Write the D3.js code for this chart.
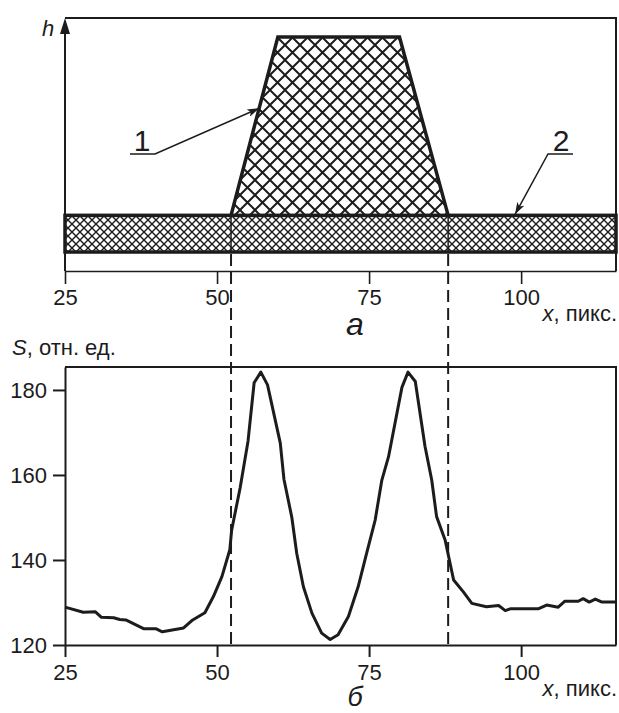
<!DOCTYPE html>
<html lang="ru">
<head>
<meta charset="UTF-8" />
<title>Профиль и сигнал</title>
<script src="https://d3js.org/d3.v7.min.js"></script>
<style>
  body { margin: 0; background: #fff; }
  svg { display: block; font-family: "Liberation Sans", Arial, sans-serif; }
</style>
</head>
<body>
<div id="chart"></div>
<script>
// ---- data ----
const xTicks = [25, 50, 75, 100]
const sTicks = [120, 140, 160, 180]
// film (1) outline: x, h
const filmX = [52.3, 60, 80, 88]
const filmH = [22, 92.5, 92.5, 22]
// substrate (2): bottom / top height
const substrateH = [7.5, 22]
// edges of the film (dashed)
const edgeX = [52.3, 88]
// signal S(x)
const sigX = [25, 28, 30, 31, 33, 34, 35, 38, 40, 41, 44.5, 46, 48, 49.4, 50.8, 52.1, 52.4, 53.8, 55.1, 56.1, 57.2, 58.3, 60.4, 61.0,
  62.3, 63.1, 64.2, 65.6, 67.2, 68.6, 69.9, 71.6, 73.2, 74.6, 76.0, 77.1, 78.2, 80.4, 81.4, 82.6, 84.2, 85.3, 86.1, 87.5,
  88.9, 90.5, 91.9, 94.3, 96.3, 97.4, 98.2, 102.8, 104.2, 106.1, 107.2, 109.4, 110.2, 111.2, 112.2, 113.3, 115.6]
const sigS = [128.9, 127.7, 127.8, 126.5, 126.4, 126.0, 125.9, 123.8, 123.8, 123.1, 124.0, 125.9, 127.6, 131.4, 136.1, 142.4, 147.0, 157, 168, 181.7, 184.2, 181.2, 167.5, 159,
  150, 141.6, 133.7, 127.5, 122.8, 121.3, 122.4, 126.7, 133.7, 141.6, 149.4, 158.8, 164.3, 180.6, 184.2, 182, 166.7, 158.8, 150.2, 144.7,
  135.3, 132.5, 129.8, 129.0, 129.3, 128.1, 128.5, 128.5, 129.4, 128.9, 130.3, 130.3, 130.9, 130.1, 130.8, 130.1, 130.1]

const width = 619, height = 713
const ink = "#1c1c1c"
const fs = 22

const svg = d3.select("#chart").append("svg")
  .attr("width", width).attr("height", height)
  .attr("viewBox", [0, 0, width, height])

const defs = svg.append("defs")

function hatch(id, w, sw) {
  defs.append("pattern")
    .attr("id", id)
    .attr("patternUnits", "userSpaceOnUse")
    .attr("width", w).attr("height", w)
    .append("path")
    .attr("d", `M0,0L${w},${w}M${w},0L0,${w}`)
    .attr("stroke", ink).attr("stroke-width", sw)
}
hatch("hatchFilm", 15, 2)
hatch("hatchSub", 8, 1.4)

defs.append("marker")
  .attr("id", "arrow")
  .attr("viewBox", "0 0 12 8")
  .attr("refX", 12).attr("refY", 4)
  .attr("markerWidth", 12).attr("markerHeight", 8)
  .attr("markerUnits", "userSpaceOnUse")
  .attr("orient", "auto")
  .append("path").attr("d", "M0,0L12,4L0,8L3,4Z").attr("fill", ink)

const x = d3.scaleLinear().domain([25, 115.6]).range([65, 616])

// ---------- top panel (a) ----------
const h = d3.scaleLinear().domain([0, 100]).range([271, 18])
const topG = svg.append("g")

// frame (top and right)
topG.append("path")
  .attr("d", `M${x(25)},${h(100)}H${x.range()[1]}V${h(0)}`)
  .attr("fill", "none").attr("stroke", ink).attr("stroke-width", 2)

// x axis
topG.append("g")
  .attr("transform", `translate(0,${h(0)})`)
  .call(d3.axisBottom(x).tickValues(xTicks).tickSize(13).tickSizeOuter(0))
  .call(g => g.select(".domain").attr("stroke", ink).attr("stroke-width", 1.6))
  .call(g => g.selectAll(".tick line").attr("stroke", ink).attr("stroke-width", 1.6))
  .call(g => g.selectAll(".tick text").attr("fill", ink).attr("font-size", fs).attr("dy", "0.82em")
    .attr("font-family", "Liberation Sans, Arial, sans-serif"))

// h axis with arrow
topG.append("line")
  .attr("x1", x(25)).attr("x2", x(25))
  .attr("y1", h(0)).attr("y2", h(100) + 14)
  .attr("stroke", ink).attr("stroke-width", 2)
topG.append("path")
  .attr("d", `M${x(25)},${h(100)}L${x(25) - 5},${h(100) + 16}L${x(25) + 5},${h(100) + 16}Z`)
  .attr("fill", ink)
topG.append("text").attr("x", 42).attr("y", 36)
  .attr("font-size", 22).attr("font-style", "italic").attr("fill", ink).text("h")

// substrate (2)
topG.append("rect")
  .attr("x", x(25)).attr("width", x.range()[1] - x(25))
  .attr("y", h(substrateH[1])).attr("height", h(substrateH[0]) - h(substrateH[1]))
  .attr("fill", "url(#hatchSub)")
  .attr("stroke", ink).attr("stroke-width", 3.5)

// film (1)
const film = filmX.map((v, i) => [x(v), h(filmH[i])])
topG.append("path")
  .attr("d", d3.line()(film))
  .attr("fill", "url(#hatchFilm)")
  .attr("stroke", ink).attr("stroke-width", 3.5).attr("stroke-linejoin", "miter")

// edges through substrate
edgeX.forEach(v => {
  topG.append("line")
    .attr("x1", x(v)).attr("x2", x(v))
    .attr("y1", h(substrateH[1])).attr("y2", h(substrateH[0]))
    .attr("stroke", ink).attr("stroke-width", 1.5)
})

// labels 1, 2
const t1 = 0.6
const tip1 = [x(filmX[0] + (filmX[1] - filmX[0]) * t1), h(filmH[0] + (filmH[1] - filmH[0]) * t1)]
topG.append("path")
  .attr("d", `M130,154H155L${tip1[0]},${tip1[1]}`)
  .attr("fill", "none").attr("stroke", ink).attr("stroke-width", 1.5)
  .attr("marker-end", "url(#arrow)")
topG.append("text").attr("x", 142).attr("y", 151).attr("text-anchor", "middle")
  .attr("font-size", 30).attr("fill", ink).text("1")

const tip2 = [x(99), h(substrateH[1]) - 1]
topG.append("path")
  .attr("d", `M573,154H548L${tip2[0]},${tip2[1]}`)
  .attr("fill", "none").attr("stroke", ink).attr("stroke-width", 1.5)
  .attr("marker-end", "url(#arrow)")
topG.append("text").attr("x", 561).attr("y", 151).attr("text-anchor", "middle")
  .attr("font-size", 30).attr("fill", ink).text("2")

topG.append("text").attr("x", 617).attr("y", 321).attr("text-anchor", "end")
  .attr("font-size", fs).attr("fill", ink)
  .call(t => t.append("tspan").attr("font-style", "italic").text("x"))
  .call(t => t.append("tspan").text(", пикс."))
topG.append("text").attr("x", 355).attr("y", 335).attr("text-anchor", "middle")
  .attr("font-size", 32).attr("font-style", "italic").attr("fill", ink).text("а")

// ---------- bottom panel (б) ----------
const y = d3.scaleLinear().domain([120, 185.4]).range([645, 367])
const botG = svg.append("g")

botG.append("path")
  .attr("d", `M${x(25)},${y(185.4)}H${x.range()[1]}V${y(120)}`)
  .attr("fill", "none").attr("stroke", ink).attr("stroke-width", 2)

botG.append("g")
  .attr("transform", `translate(0,${y(120)})`)
  .call(d3.axisBottom(x).tickValues(xTicks).tickSize(12).tickSizeOuter(0))
  .call(g => g.select(".domain").attr("stroke", ink).attr("stroke-width", 2))
  .call(g => g.selectAll(".tick line").attr("stroke", ink).attr("stroke-width", 2))
  .call(g => g.selectAll(".tick text").attr("fill", ink).attr("font-size", fs).attr("dy", "0.92em")
    .attr("font-family", "Liberation Sans, Arial, sans-serif"))

botG.append("g")
  .attr("transform", `translate(${x(25)},0)`)
  .call(d3.axisLeft(y).tickValues(sTicks).tickSize(12).tickPadding(6).tickSizeOuter(0))
  .call(g => g.select(".domain").attr("stroke", ink).attr("stroke-width", 2))
  .call(g => g.selectAll(".tick line").attr("stroke", ink).attr("stroke-width", 2))
  .call(g => g.selectAll(".tick text").attr("fill", ink).attr("font-size", fs)
    .attr("font-family", "Liberation Sans, Arial, sans-serif"))

botG.append("text").attr("x", 12).attr("y", 355)
  .attr("font-size", fs).attr("fill", ink)
  .call(t => t.append("tspan").attr("font-style", "italic").text("S"))
  .call(t => t.append("tspan").text(", отн. ед."))

// dashed edge lines
edgeX.forEach(v => {
  svg.append("line")
    .attr("x1", x(v)).attr("x2", x(v))
    .attr("y1", h(substrateH[0]) + 2).attr("y2", y(120))
    .attr("stroke", ink).attr("stroke-width", 2)
    .attr("stroke-dasharray", "12,6")
})

const line = d3.line()
  .x((d, i) => x(sigX[i]))
  .y(d => y(d))
botG.append("path")
  .datum(sigS)
  .attr("d", line)
  .attr("fill", "none").attr("stroke", ink).attr("stroke-width", 3)
  .attr("stroke-linejoin", "round")

botG.append("text").attr("x", 617).attr("y", 696).attr("text-anchor", "end")
  .attr("font-size", fs).attr("fill", ink)
  .call(t => t.append("tspan").attr("font-style", "italic").text("x"))
  .call(t => t.append("tspan").text(", пикс."))
botG.append("text").attr("x", 355).attr("y", 706).attr("text-anchor", "middle")
  .attr("font-size", 27).attr("font-style", "italic").attr("fill", ink).text("б")
</script>
</body>
</html>
